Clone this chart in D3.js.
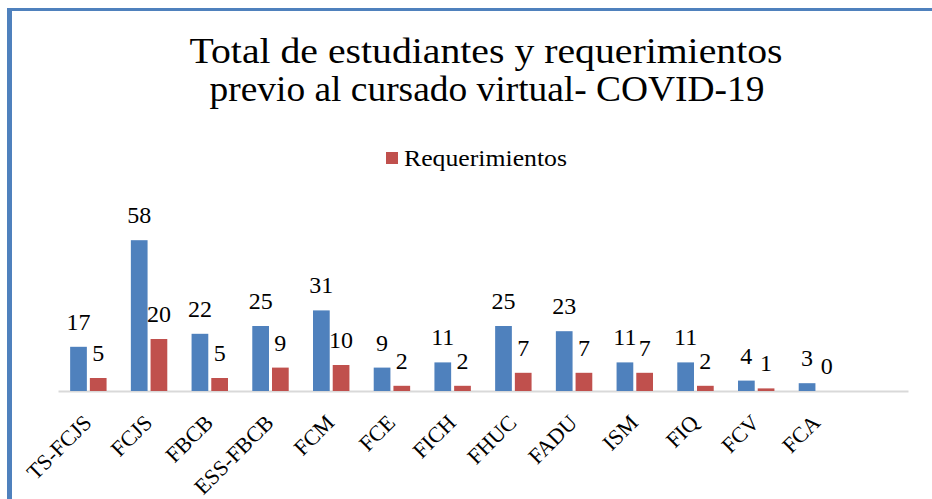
<!DOCTYPE html>
<html>
<head>
<meta charset="utf-8">
<script src="https://cdn.jsdelivr.net/npm/d3@7"></script>
<style>
  body { margin: 0; background: #fff; }
  svg { display: block; font-family: "Liberation Serif", serif; }
</style>
</head>
<body>
<div id="chart"></div>
<script>
// chart data
const categories = ["TS-FCJS", "FCJS", "FBCB", "ESS-FBCB", "FCM", "FCE", "FICH", "FHUC", "FADU", "ISM", "FIQ", "FCV", "FCA"];
const estudiantes = [17, 58, 22, 25, 31, 9, 11, 25, 23, 11, 11, 4, 3];
const requerimientos = [5, 20, 5, 9, 10, 2, 2, 7, 7, 7, 2, 1, 0];
const titleLines = ["Total de estudiantes y requerimientos", "previo al cursado virtual- COVID-19"];
const legendLabel = "Requerimientos";

const width = 932, height = 499;
const blue = "#4f81bd", red = "#c0504d";

const svg = d3.select("#chart")
  .append("svg")
    .attr("width", width)
    .attr("height", height);

// blue frame (right and bottom edges are cut off in the picture)
svg.append("rect").attr("x", 7).attr("y", 8).attr("width", width - 7).attr("height", 3).attr("fill", blue);
svg.append("rect").attr("x", 7).attr("y", 8).attr("width", 5).attr("height", height - 8).attr("fill", blue);

// title
svg.append("text")
  .attr("x", 486).attr("y", 63)
  .attr("text-anchor", "middle")
  .attr("textLength", 593).attr("lengthAdjust", "spacingAndGlyphs")
  .style("font-size", "36px")
  .text(titleLines[0]);
svg.append("text")
  .attr("x", 487).attr("y", 101)
  .attr("text-anchor", "middle")
  .attr("textLength", 555).attr("lengthAdjust", "spacingAndGlyphs")
  .style("font-size", "36px")
  .text(titleLines[1]);

// legend
svg.append("rect").attr("x", 386).attr("y", 152).attr("width", 12).attr("height", 12).attr("fill", red);
svg.append("text")
  .attr("x", 404).attr("y", 166)
  .attr("textLength", 163).attr("lengthAdjust", "spacingAndGlyphs")
  .style("font-size", "23px")
  .text(legendLabel);

// scales: one empty slot at the end, like the original axis
const x = d3.scaleBand()
  .domain([...categories, ""])
  .range([58, 908]);

const y = d3.scaleLinear()
  .domain([0, 70])
  .range([391, 209]);

const groupW = x.bandwidth() * 0.6;
const gap = 3;
const barW = (groupW - gap) / 2;
const off = (x.bandwidth() - groupW) / 2;

const rows = categories.map((c, i) => ({ cat: c, est: estudiantes[i], req: requerimientos[i] }));

// x axis
const axis = svg.append("g")
  .attr("transform", `translate(0,${y(0)})`)
  .call(d3.axisBottom(x).tickSize(0).tickSizeOuter(0));
axis.select(".domain").attr("stroke", "#d9d9d9").attr("stroke-width", 2);
axis.selectAll(".tick text")
  .attr("x", null).attr("y", null).attr("dy", null)
  .attr("text-anchor", "end")
  .attr("transform", "translate(4.5,33) rotate(-45)")
  .style("font-family", "'Liberation Serif', serif")
  .style("font-size", "22px")
  .attr("fill", "#000");

// bars
svg.selectAll(".bar-est")
  .data(rows)
  .join("rect")
    .attr("class", "bar-est")
    .attr("x", d => x(d.cat) + off)
    .attr("y", d => y(d.est))
    .attr("width", barW)
    .attr("height", d => y(0) - y(d.est))
    .attr("fill", blue);

svg.selectAll(".bar-req")
  .data(rows)
  .join("rect")
    .attr("class", "bar-req")
    .attr("x", d => x(d.cat) + off + barW + gap)
    .attr("y", d => y(d.req))
    .attr("width", barW)
    .attr("height", d => y(0) - y(d.req))
    .attr("fill", red);

// value labels
svg.selectAll(".lab-est")
  .data(rows)
  .join("text")
    .attr("class", "lab-est")
    .attr("x", d => x(d.cat) + off + barW / 2)
    .attr("y", d => y(d.est) - 17)
    .attr("text-anchor", "middle")
    .style("font-size", "24px")
    .text(d => d.est);

svg.selectAll(".lab-req")
  .data(rows)
  .join("text")
    .attr("class", "lab-req")
    .attr("x", d => x(d.cat) + off + barW * 1.5 + gap)
    .attr("y", d => y(d.req) - 17)
    .attr("text-anchor", "middle")
    .style("font-size", "24px")
    .text(d => d.req);
</script>
</body>
</html>
